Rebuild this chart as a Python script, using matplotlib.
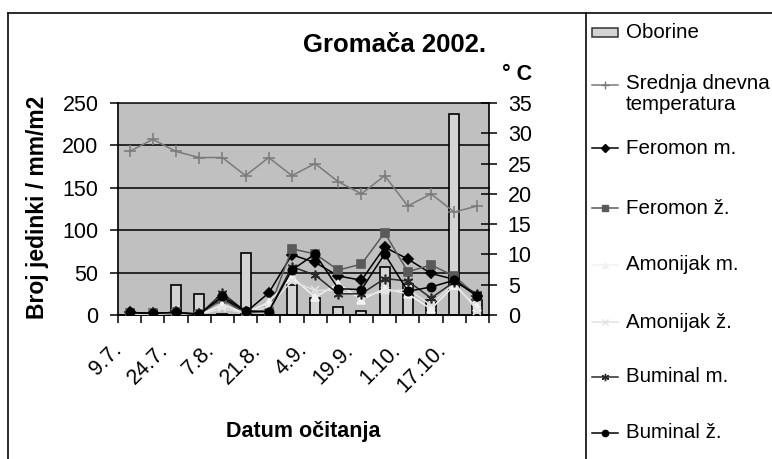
import numpy as np
import matplotlib
matplotlib.use('Agg')
import matplotlib.pyplot as plt
from matplotlib.lines import Line2D
from matplotlib.patches import Rectangle
import matplotlib.transforms as mtransforms

plt.rcParams['font.family'] = ['Liberation Sans', 'DejaVu Sans']

# ---------------- data ----------------
datumi = ['9.7.', '', '24.7.', '', '7.8.', '', '21.8.', '', '4.9.', '', '19.9.', '',
          '1.10.', '', '17.10.', '']
oborine = [0, 0, 35, 25, 1, 73, 0, 35, 20, 9, 5, 57, 36, 18, 237, 18]
temperatura = [27, 29, 27, 26, 26, 23, 26, 23, 25, 22, 20, 23, 18, 20, 17, 18]
feromon_m = [3, 2, 3, 1, 20, 3, 26, 71, 62, 46, 41, 80, 66, 49, 42, 22]
feromon_z = [2, 2, 3, 1, 18, 2, 5, 78, 72, 53, 60, 97, 51, 59, 46, 22]
amonijak_m = [1, 1, 2, 0, 12, 2, 15, 45, 21, 37, 18, 31, 25, 7, 35, 9]
amonijak_z = [1, 1, 2, 0, 8, 2, 10, 40, 29, 29, 22, 28, 30, 12, 38, 5]
buminal_m = [2, 2, 3, 0, 26, 4, 4, 57, 47, 25, 25, 43, 40, 20, 39, 25]
buminal_z = [3, 2, 3, 1, 22, 5, 4, 53, 72, 31, 30, 72, 28, 33, 41, 22]

naziv = 'Gromača 2002.'
ylabel = 'Broj jedinki / mm/m2'
xlabel = 'Datum očitanja'
ylabel2 = '° C'

# ---------------- styles ----------------
W, H = 772, 459
fig = plt.figure(figsize=(W / 100, H / 100), dpi=100)


def fx(px):
    return px / W


def fy(py):
    return 1 - py / H


L, R, T, B = 118, 489, 103, 315
ax = fig.add_axes([fx(L), fy(B), (R - L) / W, (B - T) / H])
ax.set_facecolor('#c0c0c0')

x = np.arange(len(datumi))
bar_face = '#d4d4d4'
ax.bar(x, oborine, width=0.43, color=bar_face, edgecolor='black', linewidth=1.2, zorder=2)

asterisk = (6, 2, 0)
series = [
    (feromon_m, 'Feromon m.', dict(color='black', marker='D', ms=5)),
    (feromon_z, 'Feromon ž.', dict(color='#5a5a5a', marker='s', ms=6)),
    (amonijak_m, 'Amonijak m.', dict(color='#f2f2f2', marker='^', ms=6)),
    (amonijak_z, 'Amonijak ž.', dict(color='#e2e2e2', marker='x', ms=6)),
    (buminal_m, 'Buminal m.', dict(color='#2a2a2a', marker=asterisk, ms=7)),
    (buminal_z, 'Buminal ž.', dict(color='black', marker='o', ms=6)),
]
for vals, lab, st in series:
    ax.plot(x, vals, color=st['color'], marker=st['marker'], ms=st['ms'],
            mec=st['color'], mfc=st['color'], lw=1.1, mew=1.2, zorder=3)

n = len(datumi)
ax.set_xlim(-0.5, n - 0.5)
ax.set_ylim(0, 250)
ax.set_yticks(np.arange(0, 251, 50))
ax.yaxis.grid(True, color='black', linewidth=1.1)
ax.set_axisbelow(True)
for g in ax.get_ygridlines():
    g.set_clip_on(False)

ax.set_xticks(np.arange(-0.5, n, 1))
ax.set_xticklabels([])
ax.set_xticks(x, minor=True)
ax.set_xticklabels(datumi, minor=True, rotation=45, ha='right', va='center',
                   rotation_mode='anchor')
ax.tick_params(axis='x', which='major', length=6, width=1.1, direction='out')
ax.tick_params(axis='x', which='minor', length=0, pad=23, labelsize=15.5)
ax.tick_params(axis='y', length=6, width=1.1, direction='out', labelsize=15.5, pad=8)

for s in ['top', 'right']:
    ax.spines[s].set_visible(False)
for s in ['left', 'bottom']:
    ax.spines[s].set_linewidth(1.2)
    ax.spines[s].set_color('black')

ax2 = ax.twinx()
ax2.plot(x, temperatura, color='#7a7a7a', marker='+', ms=8, mew=1.1, lw=1.1, zorder=4)
ax2.set_ylim(0, 35)
ax2.set_yticks(np.arange(0, 36, 5))
ax2.tick_params(axis='y', length=12, width=1.1, direction='inout', labelsize=15.5, pad=7.5)
for s in ['top', 'left', 'bottom']:
    ax2.spines[s].set_visible(False)
ax2.spines['right'].set_linewidth(1.2)
ax2.spines['right'].set_color('black')

offset = mtransforms.ScaledTranslation(-11 / 100, 0, fig.dpi_scale_trans)
for lbl in ax.xaxis.get_minorticklabels():
    lbl.set_transform(lbl.get_transform() + offset)

# ---------------- texts ----------------
fig.text(fx(395), fy(45), naziv, ha='center', va='center', fontsize=18.5, weight='bold')
fig.text(fx(517), fy(75), ylabel2, ha='center', va='center', fontsize=15.5, weight='bold')
fig.text(fx(38), fy(207), ylabel, ha='center', va='center', rotation=90,
         fontsize=16.5, weight='bold')
fig.text(fx((L + R) / 2), fy(431), xlabel, ha='center', va='center',
         fontsize=15.5, weight='bold')

# ---------------- frame ----------------
fc = '#1a1a1a'
fig.add_artist(Line2D([fx(8), 1], [fy(12.5), fy(12.5)], transform=fig.transFigure, color=fc, lw=1.3))
fig.add_artist(Line2D([fx(8), fx(8)], [fy(12.5), 0], transform=fig.transFigure, color=fc, lw=1.3))
fig.add_artist(Line2D([fx(586), fx(586)], [fy(12.5), 0], transform=fig.transFigure, color=fc, lw=1.3))

# ---------------- legend ----------------
hx0, hx1, tx = 592, 618, 626
fig.add_artist(Rectangle((fx(hx0), fy(37)), (hx1 - hx0) / W, 9 / H, transform=fig.transFigure,
                         facecolor=bar_face, edgecolor='#333333', lw=1.1))
fig.text(fx(tx), fy(32), 'Oborine', ha='left', va='center', fontsize=14.8)

leg_items = [
    (85, 'Srednja dnevna\ntemperatura', dict(color='#7a7a7a', marker='+', ms=7)),
]
leg_y = [148, 208, 265, 322, 377, 433]
for (vals, lab, st), yy in zip(series, leg_y):
    leg_items.append((yy, lab, st))

for yy, lab, st in leg_items:
    fig.add_artist(Line2D([fx(hx0), fx((hx0 + hx1) / 2), fx(hx1)], [fy(yy)] * 3,
                          transform=fig.transFigure, color=st['color'], lw=1.1,
                          marker=st['marker'], ms=st['ms'] * 0.75, markevery=[1],
                          mfc=st['color'], mec=st['color']))
    if '\n' in lab:
        fig.text(fx(tx), fy(yy - 11), lab, ha='left', va='top', fontsize=14.8,
                 linespacing=1.1)
    else:
        fig.text(fx(tx), fy(yy), lab, ha='left', va='center', fontsize=14.8)

fig.savefig('out.png', dpi=100)
